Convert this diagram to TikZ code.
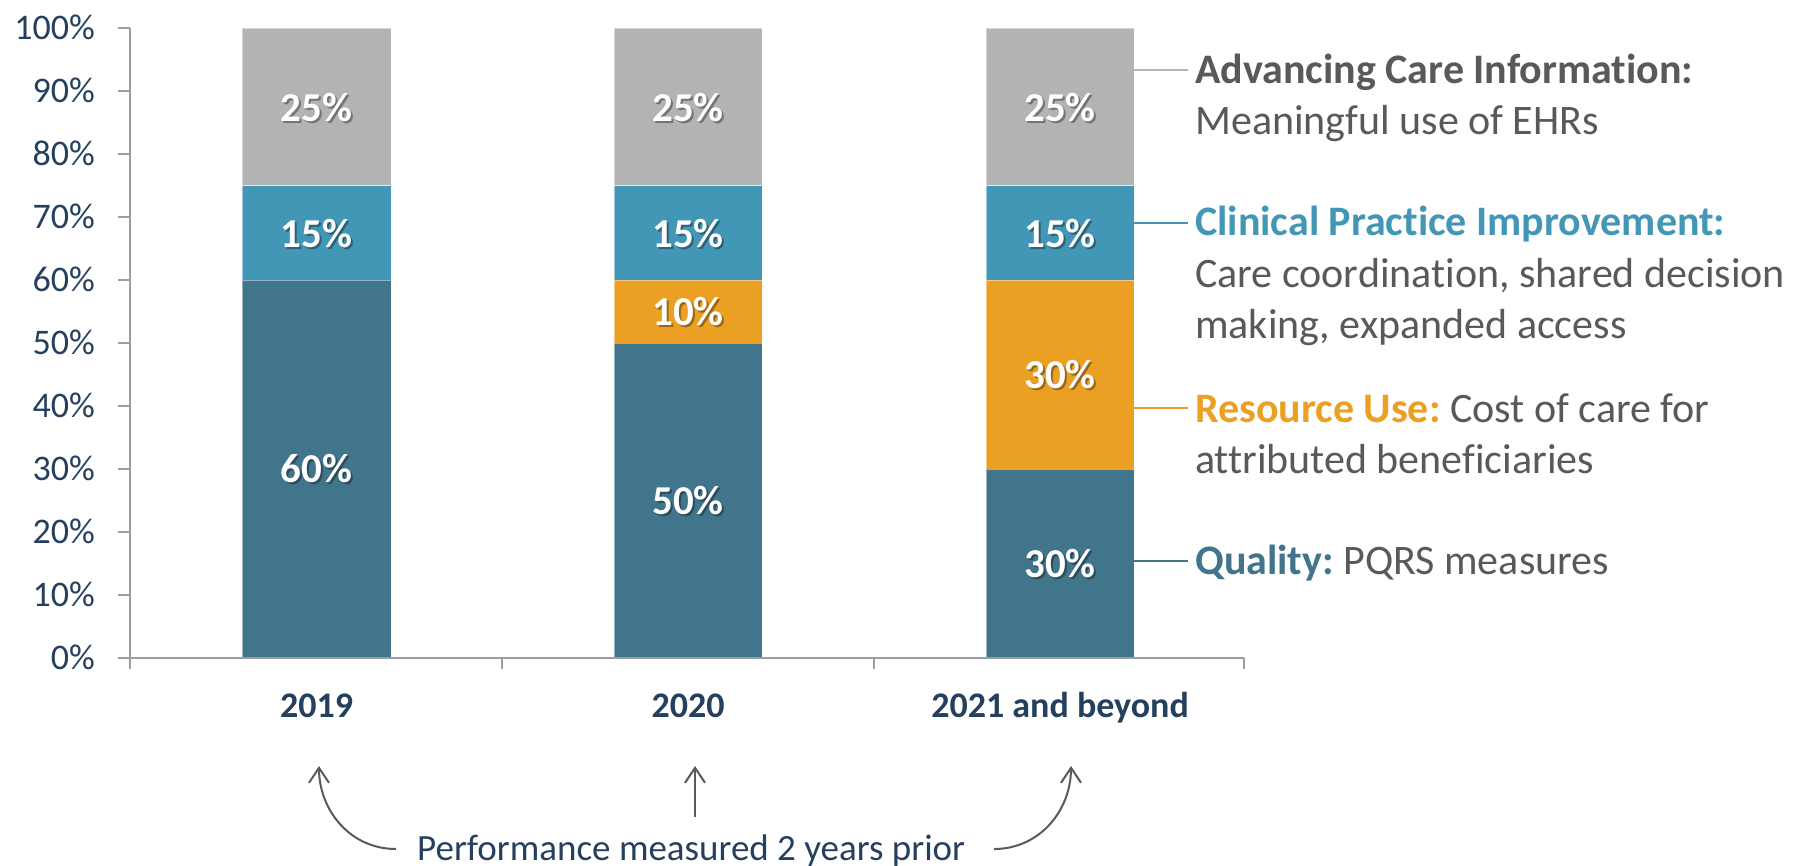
\documentclass[tikz,border=0pt]{standalone}
\usepackage{fontspec}
\setmainfont{Carlito}[RawFeature={-liga;-clig;-calt;-rlig;-dlig}]
\frenchspacing
\usetikzlibrary{arrows.meta}
\definecolor{cgrey}{HTML}{B3B3B3}
\definecolor{cblue}{HTML}{4397B6}
\definecolor{cteal}{HTML}{41758C}
\definecolor{corange}{HTML}{ECA023}
\definecolor{ctext}{HTML}{595959}
\definecolor{cnavy}{HTML}{25405E}
\definecolor{caxis}{HTML}{989EA6}
\definecolor{carrow}{HTML}{5A5A5A}
\begin{document}
\begin{tikzpicture}[x=1pt,y=-1pt,
  axisline/.style={draw=caxis, line width=2pt},
  ticklbl/.style={anchor=base east, inner sep=0pt, text=cnavy, font=\fontsize{36}{43}\selectfont},
  yearlbl/.style={anchor=base, inner sep=0pt, text=cnavy, font=\bfseries\fontsize{36}{43}\selectfont},
  seglbl/.style={anchor=base, inner sep=0pt, text=white, font=\bfseries\fontsize{41}{49}\selectfont},
  segshadow/.style={anchor=base, inner sep=0pt, text=black, text opacity=0.35, font=\bfseries\fontsize{41}{49}\selectfont},
  segbox/.style={draw=white, draw opacity=0.45, line width=1pt},
  legtxt/.style={anchor=base west, inner sep=0pt, text=ctext, font=\fontsize{42}{51}\selectfont},
  legline/.style={line width=2pt},
  notetxt/.style={anchor=base west, inner sep=0pt, text=cnavy, font=\fontsize{37}{44}\selectfont},
  noteline/.style={draw=carrow, line width=2pt, -{Straight Barb[length=15pt,width=20pt]}}
]
\useasboundingbox (0,0) rectangle (1796,865);
\fill[white] (0,0) rectangle (1796,865);

% bars
\fill[cgrey,segbox] (242,28) rectangle (391,185.5);
\fill[cblue,segbox] (242,185.5) rectangle (391,280);
\fill[cteal,segbox] (242,280) rectangle (391,658);

\fill[cgrey,segbox] (614,28) rectangle (762,185.5);
\fill[cblue,segbox] (614,185.5) rectangle (762,280);
\fill[corange,segbox] (614,280) rectangle (762,343);
\fill[cteal,segbox] (614,343) rectangle (762,658);

\fill[cgrey,segbox] (986,28) rectangle (1134,185.5);
\fill[cblue,segbox] (986,185.5) rectangle (1134,280);
\fill[corange,segbox] (986,280) rectangle (1134,469);
\fill[cteal,segbox] (986,469) rectangle (1134,658);

% axes
\draw[axisline] (130,28) -- (130,669);
\draw[axisline] (118,658) -- (1244,658);
\foreach \i/\t in {0/0,1/10,2/20,3/30,4/40,5/50,6/60,7/70,8/80,9/90,10/100}{
  \pgfmathsetmacro\yy{658-63*\i}
  \draw[axisline] (118,\yy) -- (130,\yy);
  \node[ticklbl] (t\i) at (95,\yy+11.5) {\t\%};
}
\foreach \xx in {502,874,1244}{
  \draw[axisline] (\xx,658) -- (\xx,669);
}

% bar labels
\foreach \nm/\xx/\yy/\t in {
  a1/316.5/121/25, b1/316.5/247/15, d1/316.5/482/60,
  a2/688/121/25, b2/688/247/15, c2/688/325.5/10, d2/688/514.5/50,
  a3/1060/121/25, b3/1060/247/15, c3/1060/388.5/30, d3/1060/577.5/30}{
  \node[segshadow] at (\xx+2,\yy+2) {\t\%};
  \node[seglbl] (\nm) at (\xx,\yy) {\t\%};
}

% year labels
\node[yearlbl] (y1) at (316.5,717) {2019};
\node[yearlbl] (y2) at (688,717) {2020};
\node[yearlbl] (y3) at (1060,717) {2021 and beyond};

% legend
\coordinate (la1) at (1134,70);   \coordinate (la2) at (1188,70);
\coordinate (lb1) at (1134,223);  \coordinate (lb2) at (1188,223);
\coordinate (lc1) at (1134,408);  \coordinate (lc2) at (1188,408);
\coordinate (ld1) at (1134,561);  \coordinate (ld2) at (1188,561);
\draw[legline, draw=cgrey] (la1) -- (la2);
\draw[legline, draw=cblue] (lb1) -- (lb2);
\draw[legline, draw=corange] (lc1) -- (lc2);
\draw[legline, draw=cteal] (ld1) -- (ld2);

\node[legtxt] (ha) at (1195,83) {\bfseries Advancing Care Information:};
\node[legtxt] (ha2) at (1195,134) {Meaningful use of EHRs};
\node[legtxt] (hb) at (1195,235) {\bfseries\color{cblue}Clinical Practice Improvement:};
\node[legtxt] (hb2) at (1195,287) {Care coordination, shared decision};
\node[legtxt] (hb3) at (1195,338) {making, expanded access};
\node[legtxt] (hc) at (1195,422) {{\bfseries\color{corange}Resource Use:} Cost of care for};
\node[legtxt] (hc2) at (1195,473) {attributed beneficiaries};
\node[legtxt] (hd) at (1195,574) {{\bfseries\color{cteal}Quality:} PQRS measures};

% note and arrows
\node[notetxt] (note) at (417,860) {Performance measured 2 years prior};
\coordinate (n1s) at (396,849); \coordinate (n1e) at (319,766);
\coordinate (n2s) at (695,817); \coordinate (n2e) at (695,766);
\coordinate (n3s) at (994,849); \coordinate (n3e) at (1071,766);
\draw[noteline] (n1s) .. controls (350,849) and (319,810) .. (n1e);
\draw[noteline] (n2s) -- (n2e);
\draw[noteline] (n3s) .. controls (1040,849) and (1071,810) .. (n3e);
\end{tikzpicture}
\end{document}
